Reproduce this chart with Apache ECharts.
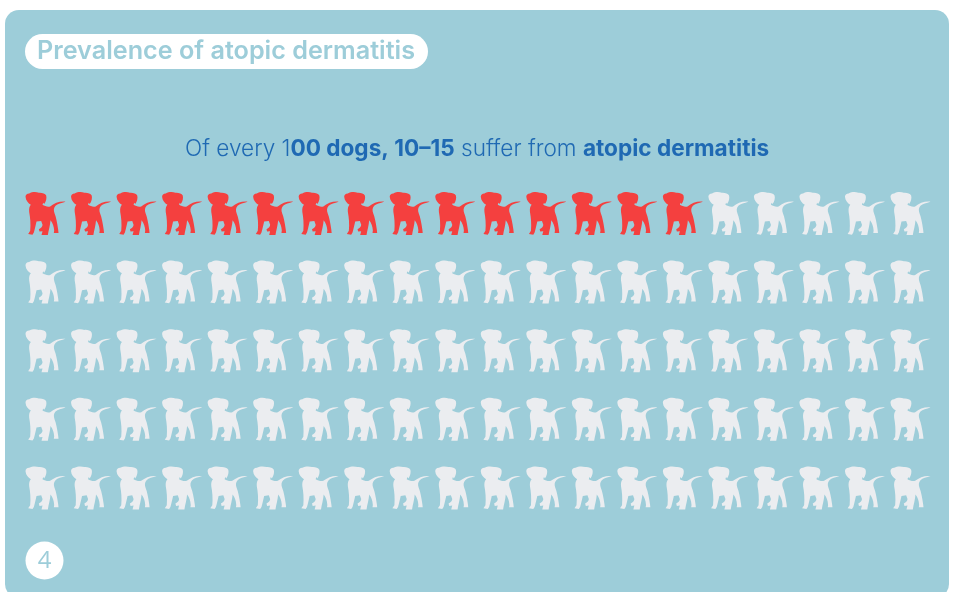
<!DOCTYPE html>
<html>
<head>
<meta charset="utf-8">
<style>
html,body{margin:0;padding:0;background:#fff}
#chart{width:953px;height:592px}
</style>
<script src="https://cdn.jsdelivr.net/npm/echarts@6/dist/echarts.min.js"></script>
</head>
<body>
<div id="chart"></div>
<script>
// Icon-array: one dog per cell, affected dogs first.
const columns = ['1','2','3','4','5','6','7','8','9','10','11','12','13','14','15','16','17','18','19','20'];
const rows = ['A','B','C','D','E'];
const affectedDogs = 15;
const heading = 'Prevalence of atopic dermatitis';
const pageNumber = '4';

const PANEL = '#9dcdd9';
const BLUE = '#1f69b3';
const RED = '#f4403f';
const PALE = '#ebedf0';

// Dog silhouette facing left, tail raised to the right.
const dogPath = 'path://M30 52C30 46 34 42 41 42C50 37 62 37 70 40C78 39 89 42 92 48' +
  'C94 56 92 65 86 73L83 69L81 75C88 79 96 82 104 80C116 70 134 64 150 66' +
  'C138 70 126 72 120 78C114 84 114 92 117 100C122 112 125 128 128 148L129 157L115 157L116 150' +
  'C115 138 112 128 105 120C104 135 99 150 97 163L78 163L81 152L72 153L70 146' +
  'C77 143 81 138 81 133L77 122L63 124C61 132 58 146 55 156L51 162L38 160L44 151' +
  'C46 130 44 112 41 96C40 86 42 79 46 75C38 71 31 63 30 52Z';

const affected = [];
const healthy = [];
rows.forEach(function (row) {
  columns.forEach(function (col) {
    const seen = affected.length + healthy.length;
    (seen < affectedDogs ? affected : healthy).push([col, row]);
  });
});

function dogSeries(data, color) {
  return {
    type: 'scatter',
    data: data,
    symbol: dogPath,
    symbolSize: [40, 43],
    itemStyle: { color: color, opacity: 1 },
    silent: true,
    z: 3
  };
}

const chart = echarts.init(document.getElementById('chart'), null, { renderer: 'canvas' });
chart.setOption({
  animation: false,
  backgroundColor: '#ffffff',
  grid: { left: 22.75, top: 179.2, width: 910.5, height: 343 },
  xAxis: { type: 'category', data: columns, show: false },
  yAxis: { type: 'category', data: rows, inverse: true, show: false },
  title: [
    {
      text: heading,
      left: 25,
      top: 34,
      padding: [5, 13, 5, 12],
      backgroundColor: '#ffffff',
      borderRadius: 17.5,
      textStyle: {
        color: PANEL,
        fontFamily: 'Inter',
        fontWeight: 600,
        fontSize: 25.2,
        lineHeight: 25
      },
      z: 5
    },
    {
      text: '{l|Of every 1}{b|00 dogs, 10–15}{l| suffer from }{b|atopic dermatitis}',
      left: 185,
      top: 135,
      padding: 0,
      textStyle: {
        rich: {
          l: { fontFamily: 'Inter', fontWeight: 300, fontSize: 22.6, color: BLUE, lineHeight: 28 },
          b: { fontFamily: 'Inter', fontWeight: 700, fontSize: 22.6, color: BLUE, lineHeight: 28 }
        }
      },
      z: 5
    }
  ],
  graphic: [
    { type: 'rect', silent: true, z: -10,
      shape: { x: 5, y: 10, width: 944, height: 588, r: 14 },
      style: { fill: PANEL } },
    { type: 'circle', silent: true, z: -9,
      shape: { cx: 44.5, cy: 560.5, r: 19 },
      style: { fill: '#ffffff' } },
    { type: 'text', silent: true, z: -8, x: 44.5, y: 561,
      style: { text: pageNumber, fill: PANEL, font: '400 24px "Open Sans"', align: 'center', verticalAlign: 'middle' } }
  ],
  series: [dogSeries(affected, RED), dogSeries(healthy, PALE)]
});
</script>
</body>
</html>
